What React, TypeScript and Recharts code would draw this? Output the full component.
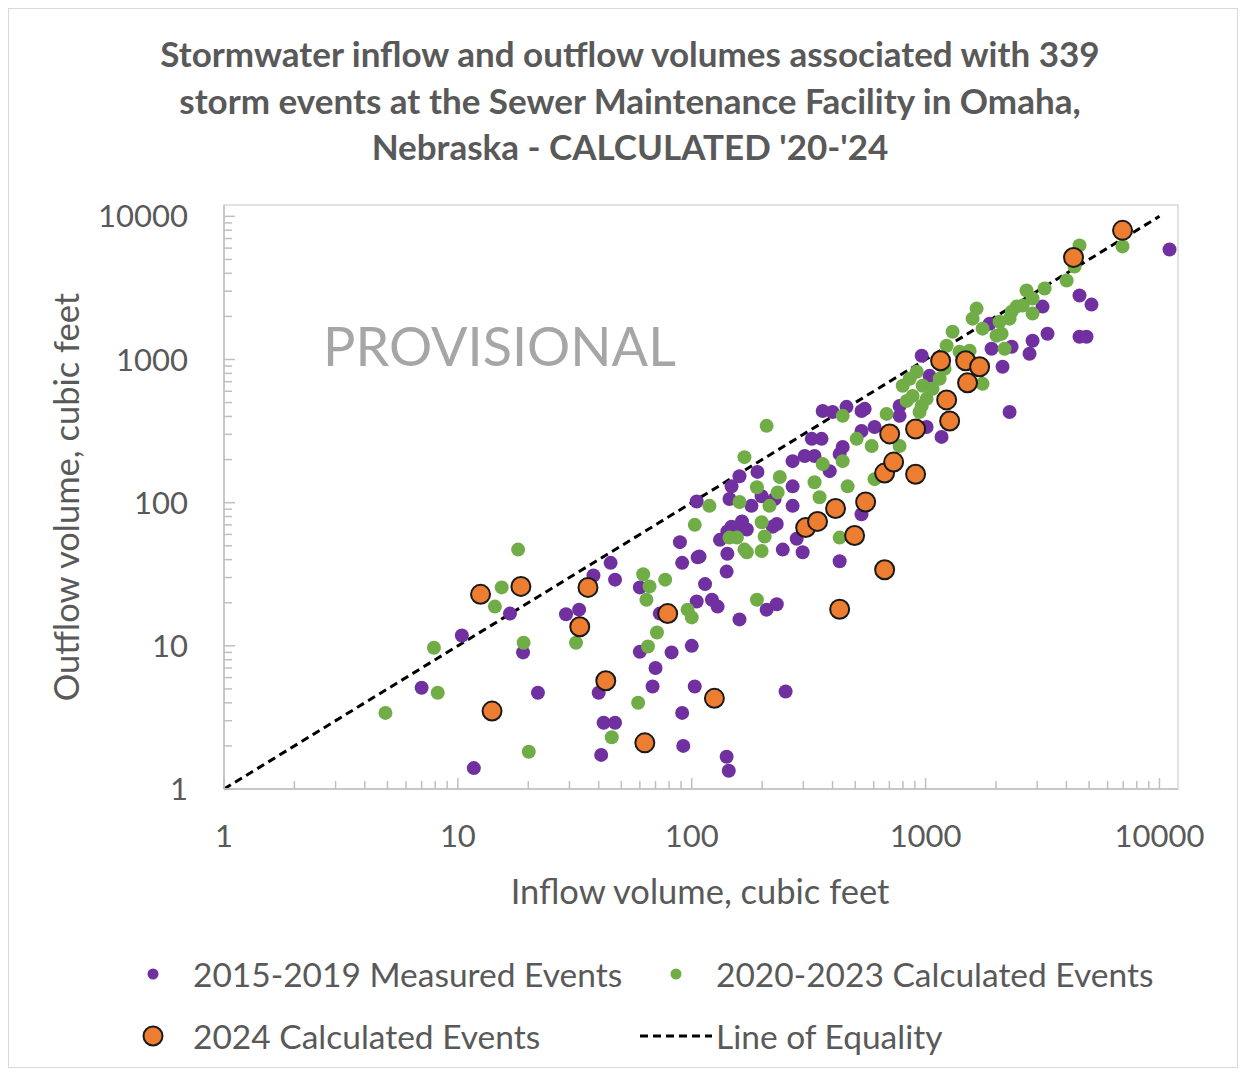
import { ScatterChart, Scatter, XAxis, YAxis, ReferenceLine, ReferenceArea } from 'recharts';

// 2015-2019 measured events (purple)
const measuredInflow = [
  10.4, 7.0, 11.7, 16.7, 19, 22, 29, 33, 38, 40, 42, 47, 41, 45, 47, 60, 70, 68, 73, 60,
  82, 100, 91, 92, 103, 141, 144, 252, 89, 106, 91, 142, 160, 132, 142, 141, 114, 105, 122, 129,
  160, 209, 231, 363, 400, 532, 459, 605, 532, 326, 359, 442, 270, 304, 335, 389, 160, 191, 148, 270,
  145, 180, 226, 270, 105, 148, 164, 172, 222, 281, 245, 298, 108, 429, 532, 199, 231, 549, 774, 774,
  1040, 962, 1010, 1170, 1914, 2133, 2782, 2866, 2286, 3162, 3321, 4550, 5120, 4550, 4875, 11040, 1878, 2333, 429,
];
const measuredOutflow = [
  11.8, 5.1, 1.4, 16.8, 9.0, 4.7, 16.6, 17.9, 31, 4.7, 2.9, 2.9, 1.73, 38, 29, 9.1, 7.0, 5.2, 16.8, 25.6,
  9.0, 10, 3.4, 2.0, 5.2, 1.68, 1.34, 4.8, 53, 41.5, 38, 63, 65, 55, 44, 33, 27, 20.4, 21, 18.8,
  15.3, 17.9, 19.5, 437, 430, 437, 467, 338, 317, 279, 279, 245, 195, 212, 212, 166, 153, 164, 130, 130,
  106, 95, 106, 95, 102, 68, 74, 65, 68, 56, 47, 45, 42, 39, 83, 111, 71, 452, 474, 404,
  769, 1062, 338, 288, 1190, 890, 1097, 1353, 430, 2342, 1514, 2797, 2419, 1443, 1443, 5870, 1778, 1228, 219,
];

// 2020-2023 calculated events (green)
const calcInflow = [
  4.9, 7.9, 8.2, 14.4, 15.4, 18.1, 19.1, 20.1, 32, 62, 66, 64, 77, 96, 100, 71, 65, 59, 45.5, 103,
  156, 168, 190, 209, 442, 507, 588, 168, 363, 442, 190, 238, 233, 335, 352, 464, 160, 215, 119, 199,
  205, 145, 172, 199, 429, 605, 855, 916, 971, 880, 962, 1010, 1148, 1205, 798, 830, 942, 681, 774, 1071,
  1304, 1230, 1397, 1542, 1752, 1652, 1588, 1752, 2071, 2011, 2333, 2600, 2866, 2177, 2701, 3227, 4009, 4335, 4550, 6950,
  2866, 2449, 2286, 2113,
];
const calcOutflow = [
  3.4, 9.7, 4.7, 18.8, 25.6, 47, 10.5, 1.82, 10.5, 31.6, 26, 21, 29, 17.9, 15.8, 12.4, 9.9, 4.0, 2.3, 70,
  57, 47, 21, 344, 404, 279, 249, 208, 186, 195, 128, 151, 118, 139, 109, 130, 101, 95, 95, 73,
  58, 57, 45, 46, 57, 146, 733, 821, 655, 557, 474, 531, 733, 861, 655, 514, 430, 417, 249, 624,
  1564, 1248, 1133, 1151, 676, 2268, 1929, 1642, 1837, 1467, 2159, 2381, 2093, 1190, 3033, 3132, 3564, 4466, 6266, 6166,
  2666, 2342, 1929, 1514,
];

// 2024 calculated events (orange)
const inflow2024 = [
  12.5, 18.6, 36, 33.2, 14, 42.9, 63, 78.9, 125, 307, 345, 412, 554, 497, 429, 668, 668, 730, 702, 906,
  906, 1267, 1230, 1159, 1483, 1702, 1511, 4290, 6950,
];
const outflow2024 = [
  22.9, 26, 25.6, 13.6, 3.5, 5.7, 2.1, 16.8, 4.3, 67, 74, 91, 101, 59, 18, 34, 161, 192, 302, 158,
  327, 372, 522, 980, 980, 890, 687, 5163, 7980,
];

const majorTicks = [1, 10, 100, 1000, 10000];
const axisTicks = [
  1, 2, 3, 4, 5, 6, 7, 8, 9,
  10, 20, 30, 40, 50, 60, 70, 80, 90,
  100, 200, 300, 400, 500, 600, 700, 800, 900,
  1000, 2000, 3000, 4000, 5000, 6000, 7000, 8000, 9000,
  10000,
];

const toPoints = (xs: number[], ys: number[]) => xs.map((x, i) => ({ inflow: x, outflow: ys[i] }));

const measured = toPoints(measuredInflow, measuredOutflow);
const calculated = toPoints(calcInflow, calcOutflow);
const events2024 = toPoints(inflow2024, outflow2024);

const FONT = 'Lato, "Open Sans", sans-serif';
const TEXT = '#595959';
const AXIS = '#bfbfbf';
const PURPLE = '#7030a0';
const GREEN = '#70ad47';
const ORANGE = '#ed7d31';

function XTick(props: any) {
  const { x, y, payload } = props;
  const major = majorTicks.includes(payload.value);
  return (
    <g>
      <line x1={x} x2={x} y1={y} y2={y - (major ? 11 : 8)} stroke={AXIS} strokeWidth={1.5} />
      {major && (
        <text x={x} y={y + 58} textAnchor="middle" fill={TEXT} fontSize={31} fontFamily={FONT}>
          {payload.value}
        </text>
      )}
    </g>
  );
}

function YTick(props: any) {
  const { x, y, payload } = props;
  const major = majorTicks.includes(payload.value);
  return (
    <g>
      <line x1={x} x2={x + (major ? 11 : 8)} y1={y} y2={y} stroke={AXIS} strokeWidth={1.5} />
      {major && (
        <text x={x - 36} y={y + 11} textAnchor="end" fill={TEXT} fontSize={31} fontFamily={FONT}>
          {payload.value}
        </text>
      )}
    </g>
  );
}

const dot = (fill: string, r: number, stroke?: string) => (p: any) => (
  <circle cx={p.cx} cy={p.cy} r={r} fill={fill} stroke={stroke ?? 'none'} strokeWidth={stroke ? 2 : 0} />
);

export default function App() {
  return (
    <div
      style={{
        position: 'relative',
        width: 1230,
        height: 1060,
        boxSizing: 'border-box',
        border: '1px solid #d9d9d9',
        background: '#fff',
        fontFamily: FONT,
        color: TEXT,
      }}
    >
      <div
        style={{
          position: 'absolute',
          left: 71,
          top: 21,
          width: 1100,
          textAlign: 'center',
          fontWeight: 700,
          fontSize: 35,
          lineHeight: '46.5px',
        }}
      >
        Stormwater inflow and outflow volumes associated with 339
        <br />
        storm events at the Sewer Maintenance Facility in Omaha,
        <br />
        Nebraska - CALCULATED '20-'24
      </div>

      <ScatterChart width={1228} height={1058} margin={{ top: 196, right: 59, bottom: 178, left: 95 }}>
        <ReferenceArea x1={1} x2={12000} y1={1} y2={12000} fill="none" stroke="#d9d9d9" strokeWidth={1.5} />
        <XAxis
          type="number"
          dataKey="inflow"
          scale="log"
          domain={[1, 12000]}
          allowDataOverflow
          ticks={axisTicks}
          interval={0}
          tickLine={false}
          tickSize={0}
          tickMargin={0}
          height={100}
          axisLine={{ stroke: AXIS, strokeWidth: 1.5 }}
          tick={(p: any) => <XTick {...p} />}
        />
        <YAxis
          type="number"
          dataKey="outflow"
          scale="log"
          domain={[1, 12000]}
          allowDataOverflow
          ticks={axisTicks}
          interval={0}
          tickLine={false}
          tickSize={0}
          tickMargin={0}
          width={120}
          axisLine={{ stroke: AXIS, strokeWidth: 1.5 }}
          tick={(p: any) => <YTick {...p} />}
        />
        <Scatter data={measured} fill={PURPLE} shape={dot(PURPLE, 7)} isAnimationActive={false} />
        <Scatter data={calculated} fill={GREEN} shape={dot(GREEN, 7)} isAnimationActive={false} />
        <ReferenceLine
          segment={[{ x: 1, y: 1 }, { x: 10000, y: 10000 }]}
          stroke="#000"
          strokeWidth={3}
          strokeDasharray="8 5"
        />
        <Scatter data={events2024} fill={ORANGE} shape={dot(ORANGE, 9.5, '#1a1a1a')} isAnimationActive={false} />
      </ScatterChart>

      <div style={{ position: 'absolute', left: 314, top: 336, transform: 'translateY(-50%)', fontSize: 54, color: '#a6a6a6', whiteSpace: 'nowrap' }}>
        PROVISIONAL
      </div>

      <div
        style={{
          position: 'absolute',
          left: 56,
          top: 488,
          transform: 'translate(-50%, -50%) rotate(-90deg)',
          fontSize: 34.5,
          whiteSpace: 'nowrap',
        }}
      >
        Outflow volume, cubic feet
      </div>
      <div style={{ position: 'absolute', left: 691, top: 881, transform: 'translate(-50%, -50%)', fontSize: 34.5, whiteSpace: 'nowrap' }}>
        Inflow volume, cubic feet
      </div>

      {/* legend */}
      <svg style={{ position: 'absolute', left: 0, top: 0, pointerEvents: 'none' }} width={1228} height={1058}>
        <circle cx={144} cy={965} r={5.5} fill={PURPLE} />
        <circle cx={667} cy={965} r={5.5} fill={GREEN} />
        <circle cx={144} cy={1027} r={9.5} fill={ORANGE} stroke="#1a1a1a" strokeWidth={2} />
        <line x1={631} x2={703} y1={1027} y2={1027} stroke="#000" strokeWidth={3} strokeDasharray="8 5" />
      </svg>
      {[
        { label: '2015-2019 Measured Events', left: 184, top: 965 },
        { label: '2020-2023 Calculated Events', left: 707, top: 965 },
        { label: '2024 Calculated Events', left: 184, top: 1027 },
        { label: 'Line of Equality', left: 707, top: 1027 },
      ].map((item) => (
        <div
          key={item.label}
          style={{ position: 'absolute', left: item.left, top: item.top, transform: 'translateY(-50%)', fontSize: 33.5, whiteSpace: 'nowrap' }}
        >
          {item.label}
        </div>
      ))}
    </div>
  );
}
